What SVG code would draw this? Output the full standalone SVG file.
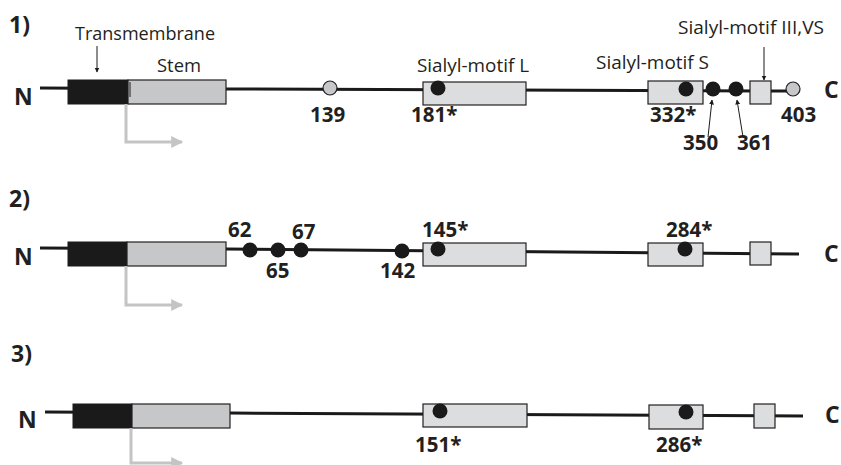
<svg xmlns="http://www.w3.org/2000/svg" width="841" height="465" viewBox="0 0 841 465">
<defs>
<marker id="ah" viewBox="0 0 10 10" refX="9" refY="5" markerWidth="5" markerHeight="6" orient="auto" markerUnits="userSpaceOnUse"><path d="M0,0 L10,5 L0,10 z" fill="#1a1a1a"/></marker>
<marker id="gh" viewBox="0 0 10 10" refX="9" refY="5" markerWidth="14" markerHeight="12" orient="auto" markerUnits="userSpaceOnUse"><path d="M0,0 L10,5 L0,10 z" fill="#c4c4c4"/></marker>
<style>
.bb{font-family:"Open Sans","Liberation Sans",sans-serif;font-weight:bold;fill:#231f20}
.num{font-size:20.5px}
.row{font-size:23px}
.lbl{font-family:"Open Sans","Liberation Sans",sans-serif;font-size:18px;fill:#231f20}
.axis{stroke:#1a1a1a;stroke-width:3;fill:none}
.tm{fill:#1a1a1a;stroke:#1a1a1a;stroke-width:1}
.stem{fill:#c6c7c8;stroke:#231f20;stroke-width:1.2}
.mot{fill:#dcddde;stroke:#231f20;stroke-width:1.2}
.dot{fill:#1a1a1a}
.gdot{fill:#c6c7c8;stroke:#231f20;stroke-width:1.2}
.garr{stroke:#c4c4c4;stroke-width:3;fill:none}
.thin{stroke:#1a1a1a;stroke-width:1;fill:none}
</style>
</defs>

<!-- Row 1 -->
<text class="bb row" x="9" y="33">1)</text>
<g id="row1-backbone">
<path class="axis" d="M40,88 L226,89 L795,91"/>
</g>
<g id="row1-tm"><rect class="tm" x="68" y="80" width="60" height="24"/></g>
<g id="row1-stem"><rect class="stem" x="128" y="80" width="98" height="24"/><line class="thin" x1="130" y1="82" x2="130" y2="97"/></g>
<g id="row1-motifL"><rect class="mot" x="423" y="82" width="103" height="23"/></g>
<g id="row1-motifS"><rect class="mot" x="648" y="81" width="55" height="23"/></g>
<g id="row1-motifVS"><rect class="mot" x="750" y="81" width="21" height="23"/></g>
<g id="row1-sites">
<circle class="gdot" cx="330" cy="88" r="7"/>
<circle class="dot" cx="438" cy="88" r="7.5"/>
<circle class="dot" cx="686" cy="89" r="7.5"/>
<circle class="dot" cx="713" cy="89" r="7.5"/>
<circle class="dot" cx="736" cy="89" r="7.5"/>
<circle class="gdot" cx="793" cy="89" r="7"/>
</g>
<g id="row1-connectors">
<line class="thin" x1="97" y1="46" x2="97" y2="72" marker-end="url(#ah)"/>
<line class="thin" x1="764" y1="47" x2="764" y2="80" marker-end="url(#ah)"/>
<line class="thin" x1="708" y1="137" x2="712" y2="100" marker-end="url(#ah)"/>
<line class="thin" x1="743" y1="137" x2="737" y2="100" marker-end="url(#ah)"/>
<path class="garr" d="M126,104 L126,142 L182,142" marker-end="url(#gh)"/>
</g>
<g id="row1-labels">
<text class="lbl" x="75" y="40" textLength="140" lengthAdjust="spacingAndGlyphs">Transmembrane</text>
<text class="lbl" x="157" y="72" textLength="44" lengthAdjust="spacingAndGlyphs">Stem</text>
<text class="lbl" x="417" y="72" textLength="112" lengthAdjust="spacingAndGlyphs">Sialyl-motif L</text>
<text class="lbl" x="596" y="69" textLength="113" lengthAdjust="spacingAndGlyphs">Sialyl-motif S</text>
<text class="lbl" x="678" y="34" textLength="146" lengthAdjust="spacingAndGlyphs">Sialyl-motif III,VS</text>
<text class="bb row" x="14" y="105">N</text>
<text class="bb row" x="824" y="98">C</text>
<text class="bb num" x="310" y="122">139</text>
<text class="bb num" x="411" y="122">181*</text>
<text class="bb num" x="650" y="122">332*</text>
<text class="bb num" x="781" y="122">403</text>
<text class="bb num" x="683" y="150">350</text>
<text class="bb num" x="737" y="150">361</text>
</g>

<!-- Row 2 -->
<text class="bb row" x="9" y="207">2)</text>
<g id="row2-backbone">
<path class="axis" d="M40,248 L226,249 L799,254"/>
</g>
<g id="row2-tm"><rect class="tm" x="68" y="242" width="59" height="24"/></g>
<g id="row2-stem"><rect class="stem" x="127" y="242" width="99" height="24"/></g>
<g id="row2-motifL"><rect class="mot" x="423" y="243" width="103" height="23"/></g>
<g id="row2-motifS"><rect class="mot" x="648" y="243" width="55" height="23"/></g>
<g id="row2-motifVS"><rect class="mot" x="750" y="242" width="21" height="23"/></g>
<g id="row2-sites">
<circle class="dot" cx="250" cy="250" r="7.5"/>
<circle class="dot" cx="278" cy="250" r="7.5"/>
<circle class="dot" cx="301" cy="250" r="7.5"/>
<circle class="dot" cx="402" cy="251" r="7.5"/>
<circle class="dot" cx="438" cy="249" r="7.5"/>
<circle class="dot" cx="685" cy="249" r="7.5"/>
</g>
<g id="row2-connectors">
<path class="garr" d="M126,266 L126,305 L182,305" marker-end="url(#gh)"/>
</g>
<g id="row2-labels">
<text class="bb row" x="14" y="265">N</text>
<text class="bb row" x="824" y="262">C</text>
<text class="bb num" x="228" y="237">62</text>
<text class="bb num" x="266" y="278">65</text>
<text class="bb num" x="292" y="239">67</text>
<text class="bb num" x="380" y="278">142</text>
<text class="bb num" x="422" y="237">145*</text>
<text class="bb num" x="666" y="237">284*</text>
</g>

<!-- Row 3 -->
<text class="bb row" x="11" y="362">3)</text>
<g id="row3-backbone">
<path class="axis" d="M45,412 L230,413 L803,416"/>
</g>
<g id="row3-tm"><rect class="tm" x="73" y="404" width="59" height="24"/></g>
<g id="row3-stem"><rect class="stem" x="132" y="404" width="98" height="24"/></g>
<g id="row3-motifL"><rect class="mot" x="423" y="404" width="104" height="23"/></g>
<g id="row3-motifS"><rect class="mot" x="649" y="405" width="54" height="24"/></g>
<g id="row3-motifVS"><rect class="mot" x="754" y="404" width="21" height="24"/></g>
<g id="row3-sites">
<circle class="dot" cx="440" cy="411" r="7.5"/>
<circle class="dot" cx="686" cy="412" r="7.5"/>
</g>
<g id="row3-connectors">
<path class="garr" d="M131,428 L131,463 L182,463" marker-end="url(#gh)"/>
</g>
<g id="row3-labels">
<text class="bb row" x="18" y="428">N</text>
<text class="bb row" x="825" y="423">C</text>
<text class="bb num" x="415" y="452">151*</text>
<text class="bb num" x="656" y="452">286*</text>
</g>
</svg>
